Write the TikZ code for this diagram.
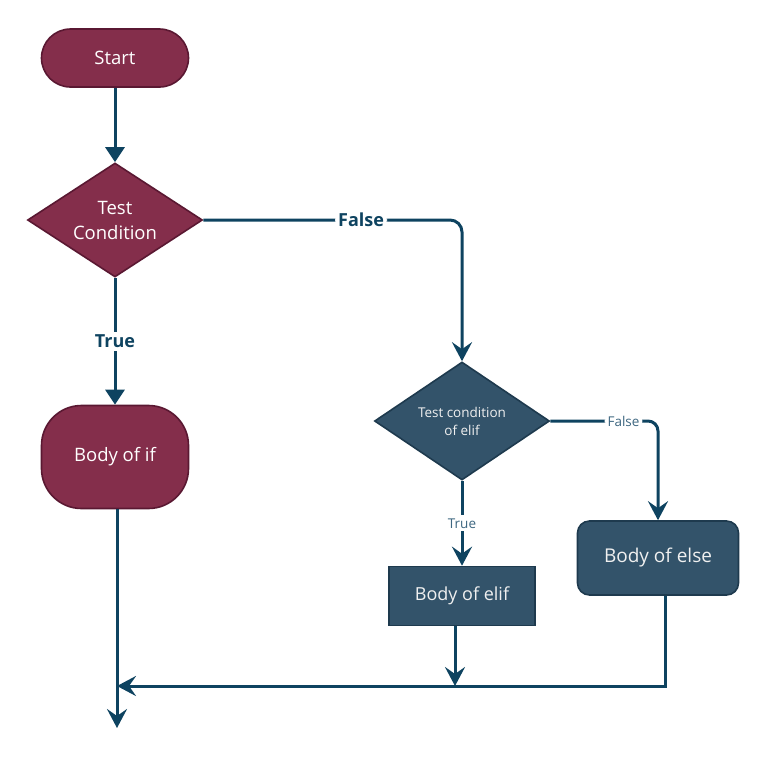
\documentclass[tikz,border=0pt]{standalone}
\usepackage{fontspec}
\setmainfont{Open Sans}
\usetikzlibrary{shapes.geometric,arrows.meta}

\definecolor{wine}{HTML}{842E4B}
\definecolor{wineline}{HTML}{5A1832}
\definecolor{slate}{HTML}{33536A}
\definecolor{slateline}{HTML}{1E3A4E}
\definecolor{flowblue}{HTML}{0E4360}
\definecolor{labelblue}{HTML}{3E6781}

\begin{document}
\begin{tikzpicture}[x=1pt,y=-1pt,
  redbox/.style={draw=wineline,fill=wine,line width=1.6pt,text=white,font=\fontsize{18.5}{25}\selectfont,inner sep=0pt},
  bluebox/.style={draw=slateline,fill=slate,line width=1.6pt,text=white!94!black,inner sep=0pt},
  decision/.style={diamond,shape aspect=1.53,align=center},
  flow/.style={draw=flowblue,line width=3pt},
  tri/.style={-{Triangle[length=15pt,width=19pt]}},
  stl/.style={-{Stealth[length=19pt,width=20pt,inset=7pt]}},
  biglabel/.style={fill=white,text=flowblue,font=\fontsize{18}{22}\selectfont\bfseries,inner sep=3pt},
  smalllabel/.style={fill=white,text=labelblue,font=\fontsize{13.5}{16}\selectfont,inner sep=3pt}]

\useasboundingbox (0,0) rectangle (768,756);

\node[redbox,minimum width=147pt,minimum height=58pt,rounded corners=29pt] (start) at (115,58) {Start};
\node[redbox,decision,minimum width=175pt,minimum height=114pt] (cond) at (115,220) {Test\\Condition};
\node[redbox,minimum width=147pt,minimum height=103pt,rounded corners=40pt] (ifbody) at (115,457) {Body of if};

\node[bluebox,decision,minimum width=175pt,minimum height=118pt,font=\fontsize{13.5}{18}\selectfont] (elifq) at (462,421) {Test condition\\of elif};
\node[bluebox,minimum width=146pt,minimum height=59pt,font=\fontsize{18}{20}\selectfont] (elifb) at (462,596) {Body of elif};
\node[bluebox,minimum width=161pt,minimum height=74pt,rounded corners=12pt,font=\fontsize{19}{22}\selectfont] (elseb) at (658,558) {Body of else};

\coordinate (merge) at (117,686);
\coordinate (out) at (117,728);

% main branch
\draw[flow,tri] (start) -- (cond);
\draw[flow,tri] (cond.south) -- node[biglabel] {True} (ifbody.north);
\draw[flow,stl,rounded corners=12pt] (cond.east) -- node[biglabel,pos=0.61] {False} (elifq.north |- cond.east) -- (elifq.north);

% elif branch
\draw[flow,stl] (elifq.south) -- node[smalllabel] {True} (elifb.north);
\draw[flow,stl,rounded corners=10pt] (elifq.east) -- node[smalllabel,pos=0.68] {False} (elseb.north |- elifq.east) -- (elseb.north);

% joining back
\draw[flow,stl] ([xshift=-7pt]elifb.south) -- ([xshift=-7pt]elifb.south |- merge);
\draw[flow,stl] ([xshift=7pt]elseb.south) -- ([xshift=7pt]elseb.south |- merge) -- (merge);
\draw[flow,stl] ([xshift=2pt]ifbody.south) -- (out);
\end{tikzpicture}
\end{document}
